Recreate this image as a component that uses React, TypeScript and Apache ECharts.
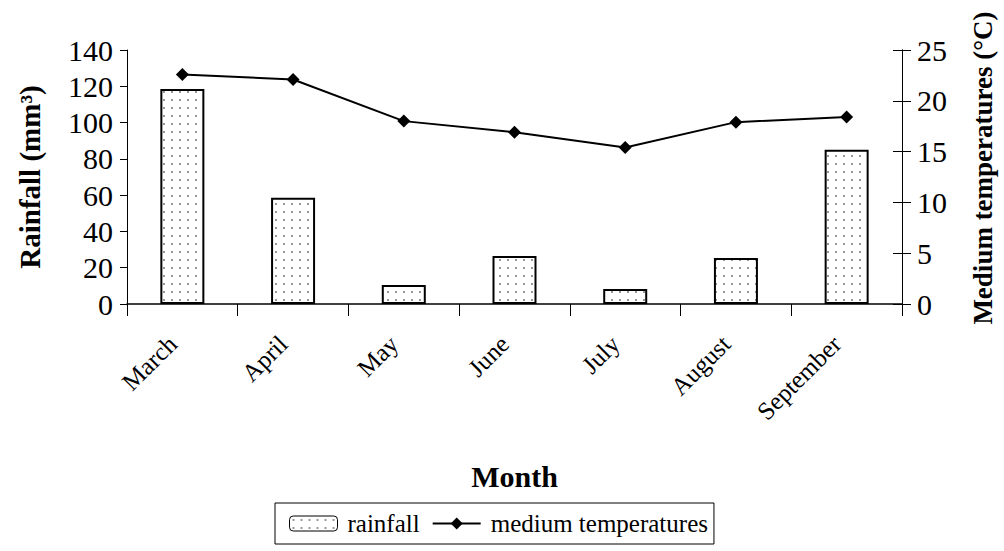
import React, { useEffect, useRef } from "react";
import * as echarts from "echarts";

const months = ["March", "April", "May", "June", "July", "August", "September"];
const rainfall = [118.5, 58.5, 10.5, 26.5, 8.3, 25.4, 85];
const temperatures = [22.6, 22.1, 18.0, 16.9, 15.4, 17.9, 18.4];
const rainTicks = { min: 0, max: 140, interval: 20 };
const tempTicks = { min: 0, max: 25, interval: 5 };

const FONT = "'Liberation Serif', 'Times New Roman', serif";

const dotSvg =
  "data:image/svg+xml;utf8," +
  encodeURIComponent(
    "<svg xmlns='http://www.w3.org/2000/svg' width='8' height='8'><rect width='8' height='8' fill='white'/><circle cx='4' cy='4' r='0.9' fill='#666'/></svg>"
  );

export default function App() {
  const ref = useRef<HTMLDivElement>(null);
  useEffect(() => {
    document.body.style.margin = "0";
    const chart = echarts.init(ref.current!, null, { renderer: "svg" });
    const pattern: any = { image: dotSvg, repeat: "repeat", imageWidth: 8, imageHeight: 8 };
    chart.setOption({
      animation: false,
      backgroundColor: "#fff",
      textStyle: { fontFamily: FONT, color: "#000" },
      grid: { left: 127, right: 99, top: 50, bottom: 247, containLabel: false },
      legend: {
        left: 275,
        top: 503,
        data: ["rainfall", "medium temperatures"],
        borderColor: "#000",
        borderWidth: 1,
        borderRadius: 0,
        padding: [8, 6, 8, 14],
        itemGap: 12,
        itemWidth: 48,
        itemHeight: 15,
        itemStyle: { borderWidth: 1 },
        textStyle: { fontFamily: FONT, fontSize: 25, color: "#000", padding: [0, 0, 0, 5] },
      },
      xAxis: {
        type: "category",
        data: months,
        name: "Month",
        nameLocation: "middle",
        nameGap: 157,
        nameTextStyle: { fontFamily: FONT, fontSize: 30, fontWeight: "bold", color: "#000" },
        axisLine: { lineStyle: { color: "#000", width: 1.5 } },
        axisTick: { show: true, length: 12, lineStyle: { color: "#000" } },
        axisLabel: {
          rotate: 45,
          fontFamily: FONT,
          fontSize: 25,
          color: "#000",
          margin: 26,
          interval: 0,
          padding: [0, 14, 0, 0],
        },
      },
      yAxis: [
        {
          type: "value",
          ...rainTicks,
          position: "left",
          name: "Rainfall (mm³)",
          nameLocation: "middle",
          nameRotate: 90,
          nameGap: 83,
          nameTextStyle: { fontFamily: FONT, fontSize: 29, fontWeight: "bold", color: "#000" },
          axisLine: { show: true, lineStyle: { color: "#000" } },
          axisTick: { show: true, length: 7, lineStyle: { color: "#000" } },
          axisLabel: { fontFamily: FONT, fontSize: 30, color: "#000", margin: 14 },
          splitLine: { show: false },
        },
        {
          type: "value",
          ...tempTicks,
          position: "right",
          name: "Medium temperatures (°C)",
          nameLocation: "middle",
          nameRotate: 90,
          nameGap: 67,
          nameTextStyle: {
            fontFamily: FONT,
            fontSize: 27,
            fontWeight: "bold",
            color: "#000",
            padding: [0, 0, 0, 18],
          },
          axisLine: { show: true, lineStyle: { color: "#000" } },
          axisTick: { show: true, length: 9, lineStyle: { color: "#000" } },
          axisLabel: { fontFamily: FONT, fontSize: 30, color: "#000", margin: 15 },
          splitLine: { show: false },
        },
        {
          type: "value",
          ...tempTicks,
          position: "right",
          axisLine: { show: true, lineStyle: { color: "#000" } },
          axisTick: { show: true, inside: true, length: 9, lineStyle: { color: "#000" } },
          axisLabel: { show: false },
          splitLine: { show: false },
        },
      ],
      series: [
        {
          name: "rainfall",
          type: "bar",
          yAxisIndex: 0,
          data: rainfall,
          barWidth: 44,
          itemStyle: { color: pattern, borderColor: "#000", borderWidth: 2 },
        },
        {
          name: "medium temperatures",
          type: "line",
          yAxisIndex: 1,
          data: temperatures,
          symbol: "diamond",
          symbolSize: 13,
          lineStyle: { color: "#000", width: 2 },
          itemStyle: { color: "#000" },
        },
      ],
    });
    return () => chart.dispose();
  }, []);
  return <div ref={ref} style={{ width: 1004, height: 551 }} />;
}
